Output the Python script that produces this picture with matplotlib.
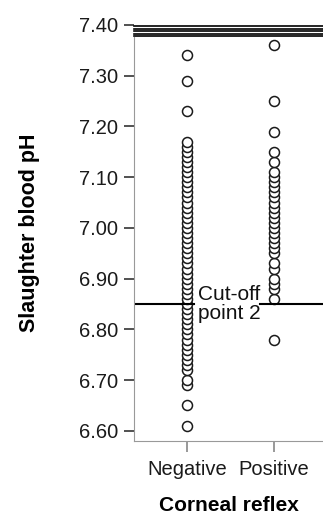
import matplotlib
matplotlib.use("Agg")
import matplotlib.pyplot as plt

plt.rcParams['font.family'] = ['Liberation Sans', 'DejaVu Sans']

categories = ['Negative', 'Positive']

negative_ph = [6.61, 6.65, 6.69, 6.70, 6.72,
               6.73, 6.74, 6.75, 6.76, 6.77, 6.78, 6.79, 6.80, 6.81, 6.82,
               6.83, 6.84, 6.85, 6.86, 6.87, 6.88, 6.89, 6.90, 6.91, 6.92,
               6.93, 6.94, 6.95, 6.96, 6.97, 6.98, 6.99, 7.00, 7.01, 7.02,
               7.03, 7.04, 7.05, 7.06, 7.07, 7.08, 7.09, 7.10, 7.11, 7.12,
               7.13, 7.14, 7.15, 7.16, 7.17,
               7.23, 7.29, 7.34]

positive_ph = [6.78, 6.86, 6.88, 6.89, 6.90, 6.92, 6.93, 6.95,
               6.96, 6.97, 6.98, 6.99, 7.00, 7.01, 7.02, 7.03, 7.04, 7.05,
               7.06, 7.07, 7.08, 7.09, 7.10, 7.11,
               7.13, 7.15, 7.19, 7.25, 7.36]

cutoff = 6.85
cutoff_label = 'Cut-off\npoint 2'
top_lines = [7.378, 7.383, 7.388, 7.393, 7.398]
yticks = [6.60, 6.70, 6.80, 6.90, 7.00, 7.10, 7.20, 7.30, 7.40]

fig = plt.figure(figsize=(3.23, 5.18), dpi=100)
ax = fig.add_axes([134 / 323, 77 / 518, 189 / 323, 416 / 518])

for i, vals in enumerate([negative_ph, positive_ph]):
    ax.plot([i + 1] * len(vals), vals, 'o', ms=7.2, mfc='white',
            mec='#1a1a1a', mew=1.1, clip_on=False)

# cut-off line, broken around the label
ax.plot([0.39, 1.08], [cutoff, cutoff], color='black', lw=1.5)
ax.plot([1.84, 2.6], [cutoff, cutoff], color='black', lw=1.5)
ax.text(1.125, cutoff, cutoff_label, fontsize=15, va='center', ha='left',
        color='#111111', linespacing=1.05)

for y in top_lines:
    ax.plot([0.39, 2.6], [y, y], color='black', lw=1.2, clip_on=False)

ax.set_xlim(0.39, 2.563)
ax.set_ylim(6.58, 7.40)
ax.set_xticks([1, 2])
ax.set_xticklabels(categories, fontsize=14.5, color='#1a1a1a')
ax.set_yticks(yticks)
ax.set_yticklabels(['%.2f' % v for v in yticks], fontsize=14.5, color='#1a1a1a')

ax.spines['top'].set_visible(False)
ax.spines['right'].set_visible(False)
ax.spines['left'].set_color('#999999')
ax.spines['bottom'].set_color('#999999')
ax.spines['left'].set_bounds(6.58, 7.376)
ax.tick_params(axis='y', length=7.5, width=1.2, color='#333333', pad=4)
ax.tick_params(axis='x', length=8, width=1.2, color='#888888', pad=6)

ax.set_xlabel('Corneal reflex', fontsize=15, fontweight='bold', labelpad=12)
ax.set_ylabel('Slaughter blood pH', fontsize=15.5, fontweight='bold', labelpad=28)

fig.savefig('out.png', dpi=100)
